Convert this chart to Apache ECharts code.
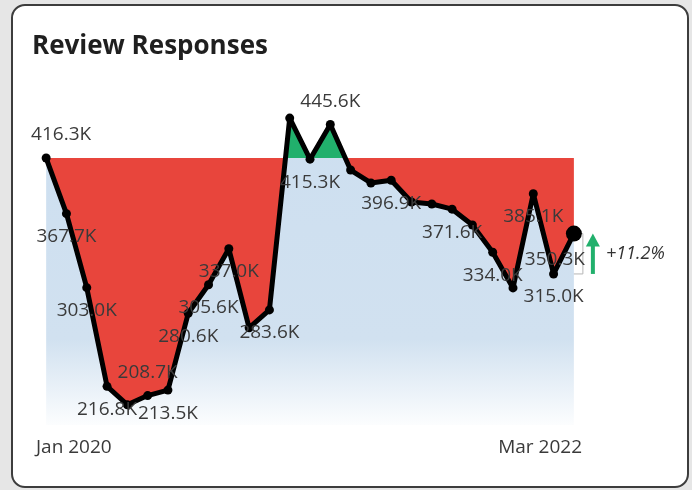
<!DOCTYPE html>
<html><head><meta charset="utf-8">
<script src="https://cdn.jsdelivr.net/npm/echarts@6/dist/echarts.min.js"></script>
<style>
html,body{margin:0;padding:0;width:692px;height:490px;background:#e6e6e6;overflow:hidden}
#card{position:absolute;left:11px;top:4px;width:674px;height:480px;border:2px solid #3d3d3d;border-radius:14px;background:#fff}
#chart{position:absolute;left:0;top:0;width:692px;height:490px}
</style></head><body>
<div id="card"></div><div id="chart"></div>
<script>
// ---- data ----
const months = ['Jan 2020','Feb 2020','Mar 2020','Apr 2020','May 2020','Jun 2020','Jul 2020','Aug 2020','Sep 2020','Oct 2020','Nov 2020','Dec 2020',
  'Jan 2021','Feb 2021','Mar 2021','Apr 2021','May 2021','Jun 2021','Jul 2021','Aug 2021','Sep 2021','Oct 2021','Nov 2021','Dec 2021',
  'Jan 2022','Feb 2022','Mar 2022'];
const values = [416.3, 367.7, 303.0, 216.8, 200.7, 208.7, 213.5, 280.6, 305.6, 337.0, 267.9, 283.6,
  451.2, 415.3, 445.6, 405.8, 394.5, 396.9, 377.9, 376.1, 371.6, 357.8, 334.0, 302.8, 385.1, 315.0, 350.3];
const labeledIdx = [0,1,2,3,5,6,7,8,9,11,13,14,17,20,22,24,25,26];
const labelsAbove = [0,5,14];
const axisTickLabels = ['Jan 2020','Mar 2022'];
const title = 'Review Responses';

// ---- derived ----
const base = values[0];
const redFill = [], greenFill = [];
for (let i = 0; i < values.length; i++) {
  if (i > 0) {
    const a = values[i-1], b = values[i];
    if ((a - base) * (b - base) < 0) {
      const t = (base - a) / (b - a);
      redFill.push([i - 1 + t, base]);
      greenFill.push([i - 1 + t, base]);
    }
  }
  redFill.push([i, Math.min(values[i], base)]);
  greenFill.push([i, Math.max(values[i], base)]);
}
const n = values.length;
const prev = values[n-2], last = values[n-1];
const pct = (last / prev - 1) * 100;
const pctText = (pct >= 0 ? '+' : '') + pct.toFixed(1) + '%';

const lineData = values.map((v, i) => {
  const item = { value: [i, v] };
  const show = labeledIdx.includes(i);
  item.label = { show: show, position: labelsAbove.includes(i) ? 'top' : 'bottom' };
  if (i === 0) { item.label.offset = [15, 0]; }
  if (i === n - 1) { item.symbolSize = 16; item.label.offset = [-19, 0]; }
  return item;
});

const chart = echarts.init(document.getElementById('chart'), null, { renderer: 'canvas' });
const FONT = 'Open Sans';
chart.setOption({
  animation: false,
  title: { text: title, left: 27, top: 29, textStyle: { fontFamily: FONT, fontWeight: 'bold', fontSize: 26, color: '#1f1f1f' } },
  grid: { left: 36, right: 110, top: 100, bottom: 65 },
  xAxis: [
    { type: 'value', min: -0.5, max: 26.4, show: false },
    { type: 'category', data: axisTickLabels, boundaryGap: false, position: 'bottom',
      axisLine: { show: false }, axisTick: { show: false }, splitLine: { show: false },
      axisLabel: { margin: 13, fontFamily: FONT, fontSize: 19, color: '#3a3a3a', alignMinLabel: 'left', alignMaxLabel: 'right' } }
  ],
  yAxis: { type: 'value', min: 183, max: 467, show: false },
  series: [
    { type: 'line', name: 'area', data: values.map((v, i) => [i, v]), showSymbol: false, silent: true,
      lineStyle: { width: 0, opacity: 0 },
      areaStyle: { origin: 'start', opacity: 1, color: new echarts.graphic.LinearGradient(0, 0, 0, 1, [
        { offset: 0, color: '#cddff0' }, { offset: 0.72, color: '#d1e1f0' }, { offset: 1, color: '#fcfdfe' }]) } },
    { type: 'line', name: 'below', data: redFill, showSymbol: false, silent: true,
      lineStyle: { width: 0, opacity: 0 }, areaStyle: { origin: base, color: '#e8453c', opacity: 1 } },
    { type: 'line', name: 'above', data: greenFill, showSymbol: false, silent: true,
      lineStyle: { width: 0, opacity: 0 }, areaStyle: { origin: base, color: '#21b06c', opacity: 1 } },
    { type: 'line', name: 'Review Responses', data: lineData, symbol: 'circle', symbolSize: 9,
      itemStyle: { color: '#000' }, lineStyle: { color: '#000', width: 5, join: 'round', cap: 'round' },
      label: { distance: 9, fontFamily: FONT, fontSize: 19, color: '#3a3a3a',
        formatter: p => p.value[1].toFixed(1) + 'K' } },
    { type: 'custom', name: 'change', silent: true, clip: false, data: [[n - 1, prev, last]],
      renderItem: function (params, api) {
        const a = api.coord([api.value(0) - 1, api.value(1)]);
        const b = api.coord([api.value(0), api.value(2)]);
        const bx = b[0] + 9, ax = b[0] + 19;
        const up = api.value(2) >= api.value(1);
        const tipY = b[1], tailY = a[1];
        const dir = up ? 1 : -1;
        return { type: 'group', children: [
          { type: 'polyline', shape: { points: [[b[0], b[1]], [bx, b[1]], [bx, a[1]], [a[0], a[1]]] },
            style: { stroke: '#b5b5b5', lineWidth: 1, fill: null } },
          { type: 'rect', shape: { x: ax - 2, y: Math.min(tipY + 12 * dir, tailY), width: 4, height: Math.abs(tailY - tipY - 12 * dir) },
            style: { fill: '#21b06c' } },
          { type: 'polygon', shape: { points: [[ax - 7, tipY + 13 * dir], [ax + 7, tipY + 13 * dir], [ax, tipY]] },
            style: { fill: '#21b06c' } },
          { type: 'text', x: b[0] + 32, y: (a[1] + b[1]) / 2,
            style: { text: pctText, fontFamily: FONT, fontStyle: 'italic', fontSize: 18, fill: '#333', verticalAlign: 'middle', align: 'left' } }
        ] };
      } }
  ]
});
</script>
</body></html>
